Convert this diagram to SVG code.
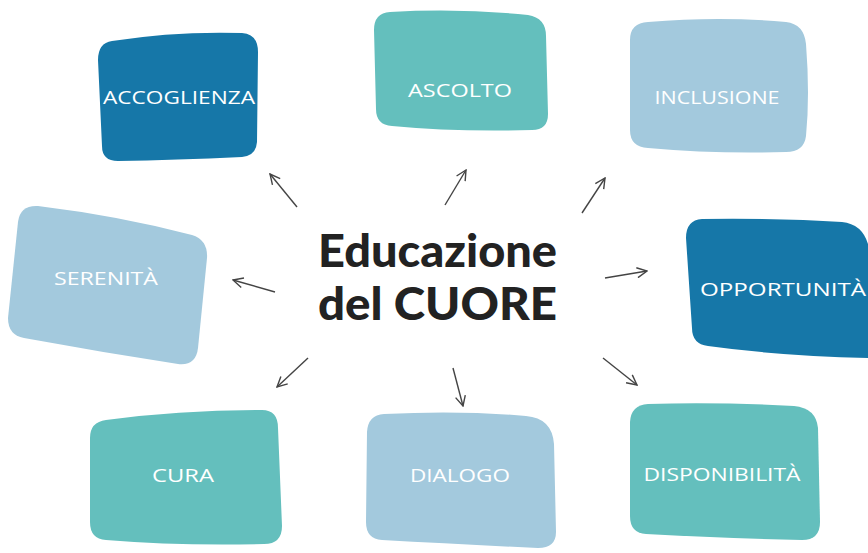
<svg xmlns="http://www.w3.org/2000/svg" width="868" height="553" viewBox="0 0 868 553">
<style>
.dk{fill:#1677a8}
.tl{fill:#64bfbd}
.lb{fill:#a3c9dd}
.lbl{font-family:"Open Sans","Liberation Sans",sans-serif;font-size:19px;fill:#ffffff;text-anchor:middle}
.ttl{font-family:"Lato","Liberation Sans",sans-serif;font-weight:900;font-size:45px;fill:#222222}
.arr{stroke:#444444;stroke-width:1.4;fill:none;marker-end:url(#ah)}
</style>
<defs>
<marker id="ah" viewBox="0 0 12 12" refX="11" refY="6" markerWidth="12" markerHeight="12" markerUnits="userSpaceOnUse" orient="auto">
<path d="M1,1 L11,6 L1,11" fill="none" stroke="#444444" stroke-width="1.4"/>
</marker>
</defs>
<rect width="868" height="553" fill="#ffffff"/>
<g id="accoglienza">
<path class="dk" d="M112,41 Q175,31 242,33 Q258,34 258,52 L257,142 Q256,156 242,157 Q175,160 118,161 Q102,161 102,146 L98,60 Q98,43 112,41 Z"/>
<text class="lbl" x="179" y="104" textLength="152" lengthAdjust="spacingAndGlyphs">ACCOGLIENZA</text>
</g>
<g id="ascolto">
<path class="tl" d="M390,12 Q460,8 528,15 Q546,18 546,36 L548,114 Q548,130 532,130 Q455,132 392,126 Q376,125 376,109 L374,30 Q374,13 390,12 Z"/>
<text class="lbl" x="460" y="97" textLength="104" lengthAdjust="spacingAndGlyphs">ASCOLTO</text>
</g>
<g id="inclusione">
<path class="lb" d="M648,22 Q720,16 786,22 Q804,24 806,44 Q810,95 806,136 Q804,152 786,152 Q715,154 648,148 Q630,147 630,130 L630,40 Q630,23 648,22 Z"/>
<text class="lbl" x="717" y="104" textLength="125" lengthAdjust="spacingAndGlyphs">INCLUSIONE</text>
</g>
<g id="serenita">
<path class="lb" d="M38,206 Q120,216 192,235 Q208,240 207,258 L198,348 Q196,366 178,364 Q100,352 24,338 Q8,335 8,318 L18,222 Q20,205 38,206 Z"/>
<text class="lbl" x="106" y="285" textLength="104" lengthAdjust="spacingAndGlyphs">SERENITÀ</text>
</g>
<g id="opportunita">
<path class="dk" d="M702,219 Q780,218 842,222 Q862,224 868,244 L868,358 Q780,356 708,346 Q692,344 692,328 L686,238 Q686,220 702,219 Z"/>
<text class="lbl" x="783" y="296" textLength="166" lengthAdjust="spacingAndGlyphs">OPPORTUNITÀ</text>
</g>
<g id="cura">
<path class="tl" d="M106,420 Q180,410 262,410 Q278,410 278,428 L282,526 Q282,544 264,544 Q180,546 106,540 Q90,539 90,522 L90,438 Q90,422 106,420 Z"/>
<text class="lbl" x="183" y="482" textLength="62" lengthAdjust="spacingAndGlyphs">CURA</text>
</g>
<g id="dialogo">
<path class="lb" d="M384,414 Q460,410 526,416 Q552,418 554,444 L556,532 Q556,548 538,548 Q455,544 382,540 Q366,539 366,522 L367,432 Q368,415 384,414 Z"/>
<text class="lbl" x="460" y="482" textLength="100" lengthAdjust="spacingAndGlyphs">DIALOGO</text>
</g>
<g id="disponibilita">
<path class="tl" d="M648,404 Q720,402 794,406 Q816,408 818,428 L820,522 Q820,540 802,540 Q720,538 646,534 Q630,533 630,516 L630,422 Q631,405 648,404 Z"/>
<text class="lbl" x="722" y="481" textLength="157" lengthAdjust="spacingAndGlyphs">DISPONIBILITÀ</text>
</g>
<g id="title">
<text class="ttl" x="318" y="267" textLength="239" lengthAdjust="spacingAndGlyphs">Educazione</text>
<text class="ttl" x="318" y="320" textLength="239" lengthAdjust="spacingAndGlyphs">del CUORE</text>
</g>
<g id="connectors">
<line class="arr" x1="297" y1="207" x2="270" y2="174"/>
<line class="arr" x1="445" y1="205" x2="466" y2="170"/>
<line class="arr" x1="582" y1="213" x2="605" y2="178"/>
<line class="arr" x1="275" y1="292" x2="233" y2="280"/>
<line class="arr" x1="605" y1="278" x2="647" y2="271"/>
<line class="arr" x1="308" y1="358" x2="277" y2="387"/>
<line class="arr" x1="453" y1="368" x2="463" y2="406"/>
<line class="arr" x1="603" y1="358" x2="637" y2="385"/>
</g>
</svg>
